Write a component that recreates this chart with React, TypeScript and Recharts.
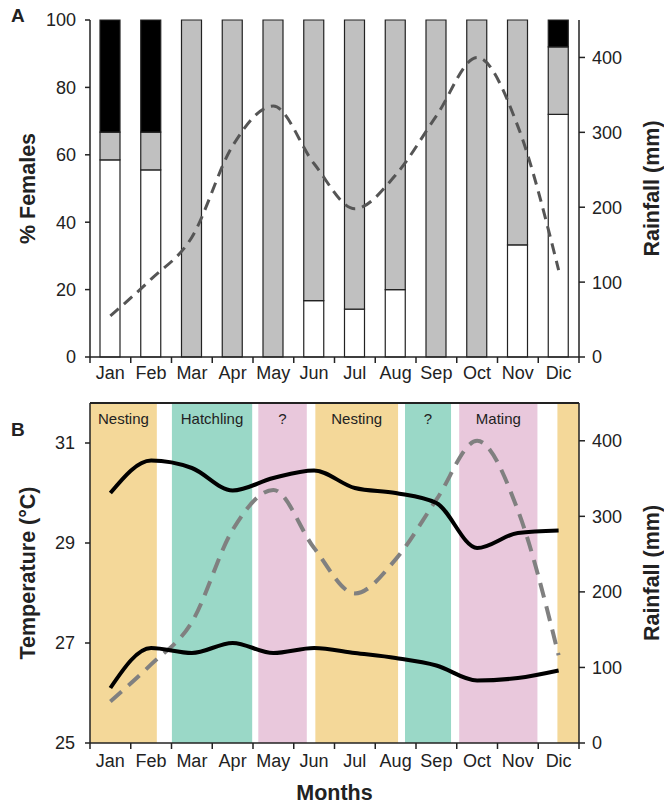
import {
  ComposedChart,
  Bar,
  Line,
  XAxis,
  YAxis,
  ReferenceArea,
  ReferenceLine,
} from 'recharts';

const months = ['Jan', 'Feb', 'Mar', 'Apr', 'May', 'Jun', 'Jul', 'Aug', 'Sep', 'Oct', 'Nov', 'Dic'];

// panel A: % of females in each state per month
const femalesWhite = [58.5, 55.5, 0, 0, 0, 16.7, 14.2, 20, 0, 0, 33.3, 72];
const femalesGray = [8.2, 11.2, 100, 100, 100, 83.3, 85.8, 80, 100, 100, 66.7, 20];
const femalesBlack = [33.3, 33.3, 0, 0, 0, 0, 0, 0, 0, 0, 0, 8];

// monthly rainfall (mm), shared by both panels
const rainfall = [55, 104, 160, 282, 335, 258, 198, 243, 322, 400, 308, 116];

// panel B: max / min temperature (°C)
const tempMax = [30.0, 30.65, 30.5, 30.05, 30.3, 30.45, 30.1, 30.0, 29.8, 28.9, 29.2, 29.25];
const tempMin = [26.1, 26.9, 26.8, 27.0, 26.8, 26.9, 26.8, 26.7, 26.55, 26.25, 26.3, 26.45];

// reproductive phases (in month units, 0 = start of Jan)
const phaseNames = ['Nesting', 'Hatchling', '?', 'Nesting', '?', 'Mating', ''];
const phaseKinds = ['nest', 'hatch', 'mate', 'nest', 'hatch', 'mate', 'nest'];
const phaseFrom = [0, 2.01, 4.13, 5.53, 7.73, 9.06, 11.47];
const phaseTo = [1.64, 3.98, 5.32, 7.56, 8.86, 10.98, 12];

const pctTicks = [0, 20, 40, 60, 80, 100];
const rainTicks = [0, 100, 200, 300, 400];
const tempTicks = [25, 27, 29, 31];
const monthEdges = [0, 1, 2, 3, 4, 5, 6, 7, 8, 9, 10, 11, 12];

const phaseColors: Record<string, string> = {
  nest: '#f4d899',
  hatch: '#9ad8c7',
  mate: '#e9c8dc',
};

const W = 664;
const LEFT_W = 90;
const RIGHT_W = 85;
const PLOT_W = W - LEFT_W - RIGHT_W;
const HALF = PLOT_W / 24;
const INK = '#222';
const TITLE_SIZE = 21.5;

const dataA = months.map((m, i) => ({
  month: m,
  white: femalesWhite[i],
  gray: femalesGray[i],
  black: femalesBlack[i],
  rain: rainfall[i],
}));

const dataB = months.map((m, i) => ({
  pos: i + 0.5,
  max: tempMax[i],
  min: tempMin[i],
  rain: rainfall[i],
}));

// category axis: tick marks sit between months, label in the middle
function MonthTickA(props: any) {
  const { x, y, payload, index } = props;
  const axisY = y - 9;
  const last = index === months.length - 1;
  return (
    <g>
      <line x1={x - HALF} x2={x - HALF} y1={axisY} y2={axisY + 6} stroke={INK} strokeWidth={1.5} />
      {last && <line x1={x + HALF} x2={x + HALF} y1={axisY} y2={axisY + 6} stroke={INK} strokeWidth={1.5} />}
      <text x={x} y={y} dy="0.71em" textAnchor="middle" fontSize={18} fill={INK}>
        {payload.value}
      </text>
    </g>
  );
}

function MonthTickB(props: any) {
  const { x, y, payload } = props;
  const label = months[payload.value];
  if (!label) return null;
  return (
    <text x={x + HALF} y={y} dy="0.71em" textAnchor="middle" fontSize={18} fill={INK}>
      {label}
    </text>
  );
}

function LeftTitle({ viewBox, text }: any) {
  const cx = viewBox.x + 35;
  const cy = viewBox.y + viewBox.height / 2;
  return (
    <text x={cx} y={cy} transform={`rotate(-90, ${cx}, ${cy})`} textAnchor="middle" fontSize={TITLE_SIZE} fontWeight="bold" fill={INK}>
      {text}
    </text>
  );
}

function RightTitle({ viewBox, text }: any) {
  const cx = viewBox.x + 80;
  const cy = viewBox.y + viewBox.height / 2;
  return (
    <text x={cx} y={cy} transform={`rotate(-90, ${cx}, ${cy})`} textAnchor="middle" fontSize={TITLE_SIZE} fontWeight="bold" fill={INK}>
      {text}
    </text>
  );
}

function BottomTitle({ viewBox }: any) {
  return (
    <text x={viewBox.x + viewBox.width / 2} y={viewBox.y + 57} textAnchor="middle" fontSize={TITLE_SIZE} fontWeight="bold" fill={INK}>
      Months
    </text>
  );
}

const axisLine = { stroke: INK, strokeWidth: 1.5 };
const tickLine = { stroke: INK, strokeWidth: 1.5 };
const tickStyle = { fontSize: 18, fill: INK };

export default function App() {
  return (
    <div
      style={{
        position: 'absolute',
        top: 0,
        left: 0,
        width: W,
        height: 804,
        background: '#fff',
        fontFamily: '"Liberation Sans", Arial, sans-serif',
      }}
    >
      <div style={{ position: 'absolute', left: 0, top: 0 }}>
        <ComposedChart
          width={W}
          height={392}
          data={dataA}
          margin={{ top: 20, right: 0, bottom: 12, left: 0 }}
          barSize={20}
        >
          <XAxis
            dataKey="month"
            height={23}
            axisLine={axisLine}
            tickLine={false}
            tickSize={6}
            tickMargin={3}
            interval={0}
            tick={<MonthTickA />}
          />
          <YAxis
            yAxisId="pct"
            width={LEFT_W}
            domain={[0, 100]}
            ticks={pctTicks}
            axisLine={axisLine}
            tickLine={tickLine}
            tickSize={5}
            tickMargin={9}
            tick={tickStyle}
            label={<LeftTitle text="% Females" />}
          />
          <YAxis
            yAxisId="rain"
            orientation="right"
            width={RIGHT_W}
            domain={[0, 450]}
            ticks={rainTicks}
            axisLine={axisLine}
            tickLine={tickLine}
            tickSize={6}
            tickMargin={7}
            tick={tickStyle}
            label={<RightTitle text="Rainfall (mm)" />}
          />
          <Bar yAxisId="pct" dataKey="white" stackId="f" fill="#ffffff" stroke={INK} strokeWidth={1.2} isAnimationActive={false} />
          <Bar yAxisId="pct" dataKey="gray" stackId="f" fill="#c0c0c0" stroke={INK} strokeWidth={1.2} isAnimationActive={false} />
          <Bar yAxisId="pct" dataKey="black" stackId="f" fill="#000000" stroke={INK} strokeWidth={1.2} isAnimationActive={false} />
          <Line
            yAxisId="rain"
            dataKey="rain"
            type="monotone"
            stroke="#555555"
            strokeWidth={3}
            strokeDasharray="11 7"
            dot={false}
            isAnimationActive={false}
          />
        </ComposedChart>
      </div>

      <div style={{ position: 'absolute', left: 0, top: 380 }}>
        <ComposedChart
          width={W}
          height={424}
          data={dataB}
          margin={{ top: 23, right: 0, bottom: 0, left: 0 }}
        >
          <XAxis
            xAxisId="m"
            dataKey="pos"
            type="number"
            domain={[0, 12]}
            ticks={monthEdges}
            interval={0}
            height={61}
            axisLine={axisLine}
            tickLine={tickLine}
            tickSize={6}
            tickMargin={5}
            tick={<MonthTickB />}
            label={<BottomTitle />}
          />
          <YAxis
            yAxisId="temp"
            width={LEFT_W}
            domain={[25, 31.8]}
            ticks={tempTicks}
            axisLine={axisLine}
            tickLine={tickLine}
            tickSize={5}
            tickMargin={10}
            tick={tickStyle}
            label={<LeftTitle text="Temperature (°C)" />}
          />
          <YAxis
            yAxisId="rain"
            orientation="right"
            width={RIGHT_W}
            domain={[0, 450]}
            ticks={rainTicks}
            axisLine={axisLine}
            tickLine={tickLine}
            tickSize={6}
            tickMargin={7}
            tick={tickStyle}
            label={<RightTitle text="Rainfall (mm)" />}
          />
          {phaseNames.map((name, i) => (
            <ReferenceArea
              key={i}
              xAxisId="m"
              yAxisId="temp"
              x1={phaseFrom[i]}
              x2={phaseTo[i]}
              fill={phaseColors[phaseKinds[i]]}
              fillOpacity={1}
              stroke="none"
              label={{ value: name, position: 'insideTop', offset: 10, fontSize: 15, fill: INK }}
            />
          ))}
          <ReferenceLine xAxisId="m" yAxisId="temp" y={31.8} stroke={INK} strokeWidth={2} />
          <Line
            xAxisId="m"
            yAxisId="rain"
            dataKey="rain"
            type="monotone"
            stroke="#808080"
            strokeWidth={4}
            strokeDasharray="15 9"
            dot={false}
            isAnimationActive={false}
          />
          <Line
            xAxisId="m"
            yAxisId="temp"
            dataKey="max"
            type="monotone"
            stroke="#000"
            strokeWidth={4}
            dot={false}
            isAnimationActive={false}
          />
          <Line
            xAxisId="m"
            yAxisId="temp"
            dataKey="min"
            type="monotone"
            stroke="#000"
            strokeWidth={4}
            dot={false}
            isAnimationActive={false}
          />
        </ComposedChart>
      </div>

      <div style={{ position: 'absolute', left: 11, top: 5, fontSize: 19, fontWeight: 'bold', color: INK }}>A</div>
      <div style={{ position: 'absolute', left: 11, top: 419, fontSize: 19, fontWeight: 'bold', color: INK }}>B</div>
    </div>
  );
}
